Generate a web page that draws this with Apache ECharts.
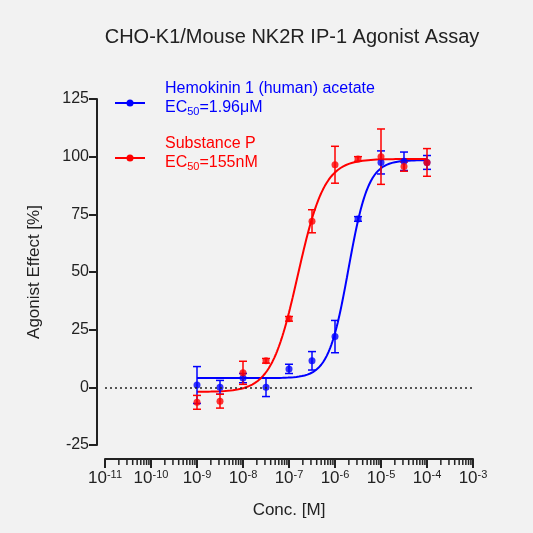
<!DOCTYPE html><html><head><meta charset="utf-8">
<script src="https://cdn.jsdelivr.net/npm/echarts@6/dist/echarts.min.js"></script>
<style>html,body{margin:0;background:#f2f2f2}#c{width:533px;height:533px}</style></head><body><div id="c"></div>
<script>
const logConc = [-9,-8.5,-8,-7.5,-7,-6.5,-6,-5.5,-5,-4.5,-4];
const hkMean = [1,0,4,0,8,11.5,22,73,97.5,98,97.5];
const hkErr  = [8,3,2,4,2,4,7,1,5,4,3];
const spMean = [-6.5,-6,6.3,11.5,29.7,72,96.5,99,100,95.7,97.5];
const spErr  = [3,3,5,1,1,5,8,1,12,2,6];
// Hill fit parameters: bottom, top, logEC50, hill slope
const hkFit = [4,98.5,Math.log10(1.96e-6),2.0];
const spFit = [-2,99,Math.log10(155e-9),1.5];
const xTicks = [-11,-10,-9,-8,-7,-6,-5,-4,-3];
const yTicks = [-25,0,25,50,75,100,125];

function curve(p){const o=[];for(let x=-9;x<=-4+1e-9;x+=0.02){o.push([x,p[0]+(p[1]-p[0])/(1+Math.pow(10,(p[2]-x)*p[3]))]);}return o;}
const minor=[];for(let d=-11;d<-3;d++)for(let k=2;k<=9;k++)minor.push([d+Math.log10(k)]);
function errSeries(m,e,color){return{type:'custom',silent:true,z:3,data:logConc.map((x,i)=>[x,m[i],e[i]]),
 renderItem:(p,api)=>{const x=api.value(0),v=api.value(1),er=api.value(2);const a=api.coord([x,v+er]),b=api.coord([x,v-er]);const s={stroke:color,lineWidth:1.5};
 return{type:'group',children:[{type:'line',shape:{x1:a[0],y1:a[1],x2:b[0],y2:b[1]},style:s},{type:'line',shape:{x1:a[0]-4,y1:a[1],x2:a[0]+4,y2:a[1]},style:s},{type:'line',shape:{x1:b[0]-4,y1:b[1],x2:b[0]+4,y2:b[1]},style:s}]};}};}
const F='Liberation Sans';
const ch=echarts.init(document.getElementById('c'));
ch.setOption({backgroundColor:'#f2f2f2',animation:false,
title:{text:'CHO-K1/Mouse NK2R IP-1 Agonist Assay',left:287,top:22,textAlign:'center',textStyle:{fontFamily:F,fontWeight:'normal',fontSize:20,color:'#222'}},
grid:{left:105,right:60,top:99,bottom:88},
xAxis:{type:'value',min:-11,max:-3,interval:1,offset:14,axisLine:{onZero:false,lineStyle:{color:'#222',width:2}},axisTick:{length:9,lineStyle:{color:'#222',width:2}},splitLine:{show:false},
 name:'Conc. [M]',nameLocation:'middle',nameGap:43,nameTextStyle:{fontFamily:F,fontSize:17,color:'#222'},
 axisLabel:{color:'#222',margin:10,formatter:v=>'{b|10}{s|'+v+'}',rich:{b:{fontFamily:F,fontSize:17,color:'#222'},s:{fontFamily:F,fontSize:11,color:'#222',verticalAlign:'top',padding:[0,0,8,0]}}}},
yAxis:{type:'value',min:-25,max:125,interval:25,offset:8,axisLine:{show:true,lineStyle:{color:'#222',width:2}},axisTick:{show:true,length:8,lineStyle:{color:'#222',width:2}},splitLine:{show:false},
 name:'Agonist Effect [%]',nameLocation:'middle',nameGap:54,nameTextStyle:{fontFamily:F,fontSize:17,color:'#222'},
 axisLabel:{fontFamily:F,fontSize:16,color:'#222',margin:8}},
series:[
 {type:'custom',silent:true,clip:false,data:minor,renderItem:(p,api)=>{const a=api.coord([api.value(0),-25]);return{type:'line',shape:{x1:a[0],y1:a[1]+14,x2:a[0],y2:a[1]+20},style:{stroke:'#222',lineWidth:1.5}};}},
 {type:'line',data:curve(hkFit),showSymbol:false,lineStyle:{color:'#0000ff',width:2},z:2,
  markLine:{silent:true,symbol:'none',label:{show:false},lineStyle:{color:'#222',type:[2,3],width:1.5},data:[[{coord:[-11,0]},{coord:[-3,0]}]]}},
 {type:'line',data:curve(spFit),showSymbol:false,lineStyle:{color:'#ff0000',width:2},z:2},
 errSeries(hkMean,hkErr,'#0000ff'),errSeries(spMean,spErr,'#ff0000'),
 {type:'scatter',data:logConc.map((x,i)=>[x,hkMean[i]]),symbolSize:7,itemStyle:{color:'#0000ff'},z:4},
 {type:'scatter',data:logConc.map((x,i)=>[x,spMean[i]]),symbolSize:7,itemStyle:{color:'#ff0000'},z:4}
],
graphic:[
 {type:'line',shape:{x1:115,y1:103,x2:145,y2:103},style:{stroke:'#0000ff',lineWidth:2}},
 {type:'circle',shape:{cx:130,cy:103,r:3.5},style:{fill:'#0000ff'}},
 {type:'text',left:165,top:81,style:{text:'{n|Hemokinin 1 (human) acetate}\n{n|EC}{s|50}{n|=1.96μM}',rich:{n:{fontFamily:F,fontSize:16,fill:'#0000ff',lineHeight:19},s:{fontFamily:F,fontSize:11,fill:'#0000ff',verticalAlign:'bottom',padding:[7,0,0,0]}}}},
 {type:'line',shape:{x1:115,y1:158,x2:145,y2:158},style:{stroke:'#ff0000',lineWidth:2}},
 {type:'circle',shape:{cx:130,cy:158,r:3.5},style:{fill:'#ff0000'}},
 {type:'text',left:165,top:136,style:{text:'{n|Substance P}\n{n|EC}{s|50}{n|=155nM}',rich:{n:{fontFamily:F,fontSize:16,fill:'#ff0000',lineHeight:19},s:{fontFamily:F,fontSize:11,fill:'#ff0000',verticalAlign:'bottom',padding:[7,0,0,0]}}}}
]});
</script></body></html>
